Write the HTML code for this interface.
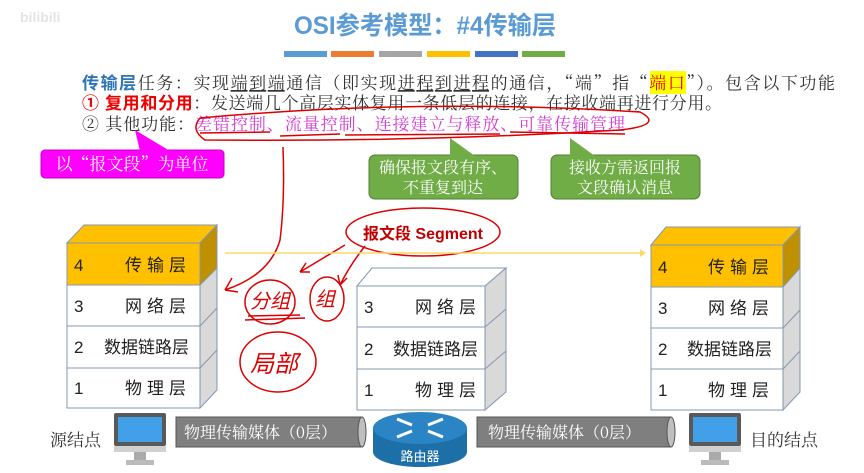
<!DOCTYPE html>
<html><head><meta charset="utf-8"><style>
html,body{margin:0;padding:0;background:#fff;}
svg{display:block;}
text{font-family:"Liberation Sans","Noto Sans CJK SC",sans-serif;}
.s{font-family:"Noto Serif CJK SC","Liberation Serif",serif;}
</style></head><body>
<svg width="864" height="473" viewBox="0 0 864 473" xmlns="http://www.w3.org/2000/svg">
<rect width="864" height="473" fill="#fff"/>
<text x="20" y="22" font-size="14" fill="#e4e4e4" font-weight="bold">bilibili</text>
<text x="425" y="34" text-anchor="middle" font-size="25" font-weight="bold" fill="#5b9bd5" textLength="262" lengthAdjust="spacingAndGlyphs">OSI参考模型：#4传输层</text>
<rect x="284" y="51" width="43" height="6" fill="#5b9bd5"/>
<rect x="331" y="51" width="43" height="6" fill="#ed7d31"/>
<rect x="379" y="51" width="43" height="6" fill="#a5a5a5"/>
<rect x="427" y="51" width="43" height="6" fill="#ffc000"/>
<rect x="475" y="51" width="43" height="6" fill="#4472c4"/>
<rect x="522" y="51" width="43" height="6" fill="#70ad47"/>

<rect x="650" y="71" width="36" height="23" fill="#ffff00"/>
<text x="82" y="89" font-size="17" fill="#333" textLength="753" lengthAdjust="spacing"><tspan font-weight="bold" fill="#2e75b6">传输层</tspan><tspan class="s">任务：实现</tspan><tspan class="s" text-decoration="underline">端到端</tspan><tspan class="s">通信（即实现</tspan><tspan class="s" text-decoration="underline">进程到进程</tspan><tspan class="s">的通信，“端”指“</tspan><tspan class="s" fill="#e00">端口</tspan><tspan class="s">”）。包含以下功能</tspan></text>
<text x="82" y="109" font-size="17" fill="#333" textLength="640" lengthAdjust="spacing"><tspan font-weight="bold" fill="#e00">① 复用和分用</tspan><tspan class="s">：发送端几个高层实体复用一条低层的连接，在接收端再进行分用。</tspan></text>
<text x="82" y="130" font-size="17" fill="#333" class="s" textLength="543" lengthAdjust="spacing">② 其他功能：<tspan fill="#d63ad6">差错控制、流量控制、连接建立与释放、可靠传输管理</tspan></text>

<g fill="none" stroke="#d00" stroke-width="1.5">
<path d="M200 118 Q420 98 640 112 Q665 125 620 130 Q420 142 205 140 Q190 130 200 118"/>
<path d="M200 133 L270 132 M280 136 L340 134 M345 135 L500 134 M510 132 L625 134"/>
<path d="M283 147 Q285 200 280 240 Q270 275 225 290"/>
<path d="M225 290 L232 278 M225 290 L238 292"/>
<path d="M345 245 Q320 260 300 272 M300 272 L306 263 M300 272 L310 272"/>
<path d="M365 246 Q350 265 340 285 M340 285 L338 275 M340 285 L347 278"/>
<ellipse cx="423" cy="232" rx="77" ry="24"/>
<ellipse cx="167" cy="306" rx="40" ry="20"/>
<ellipse cx="270" cy="302" rx="25" ry="22"/>
<ellipse cx="327" cy="299" rx="17" ry="22"/>
<path d="M245 320 L305 318 M248 316 L300 315"/>
<ellipse cx="278" cy="362" rx="38" ry="30"/>
</g>
<text x="250" y="308" font-size="20" fill="#d00" font-style="italic">分组</text>
<text x="315" y="306" font-size="20" fill="#d00" font-style="italic">组</text>
<text x="250" y="372" font-size="24" fill="#d00" font-style="italic">局部</text>
<text x="423" y="239" text-anchor="middle" font-size="16" font-weight="bold" fill="#c00000">报文段 Segment</text>

<path d="M45 150 H220 a4 4 0 0 1 4 4 V174 a4 4 0 0 1 -4 4 H45 a4 4 0 0 1 -4 -4 V154 a4 4 0 0 1 4 -4 Z" fill="#ff00ff" stroke="#c000c0"/>
<path d="M140 151 L135 130 L170 151 Z" fill="#ff00ff"/>
<text x="132" y="170" text-anchor="middle" font-size="17" fill="#fff" class="s">以“报文段”为单位</text>
<rect x="369" y="155" width="149" height="44" rx="6" fill="#70ad47" stroke="#507e32"/>
<path d="M450 156 L450 138 L475 156 Z" fill="#70ad47"/>
<text x="443" y="173" text-anchor="middle" font-size="16" fill="#fff" class="s">确保报文段有序、</text>
<text x="443" y="193" text-anchor="middle" font-size="16" fill="#fff" class="s">不重复到达</text>
<rect x="551" y="155" width="149" height="44" rx="6" fill="#70ad47" stroke="#507e32"/>
<path d="M570 156 L570 138 L595 156 Z" fill="#70ad47"/>
<text x="625" y="173" text-anchor="middle" font-size="16" fill="#fff" class="s">接收方需返回报</text>
<text x="625" y="193" text-anchor="middle" font-size="16" fill="#fff" class="s">文段确认消息</text>

<line x1="225" y1="253" x2="640" y2="253" stroke="#ffd966" stroke-width="1.5"/>
<path d="M640 249 L646 253 L640 257 Z" fill="#ffd966"/>

<g stroke="#8497b0" stroke-width="1">
<path d="M67 243 L84 225 L217 225 L200 243 Z" fill="#ffc000"/>
<path d="M200 243 L217 225 L217 390 L200 408 Z" fill="#d9d9d9"/>
<path d="M200 243 L217 225 L217 268 L200 285 Z" fill="#bf9000"/>
<rect x="67" y="243" width="133" height="42" fill="#ffc000"/>
<rect x="67" y="285" width="133" height="41" fill="#fff"/>
<rect x="67" y="326" width="133" height="42" fill="#fff"/>
<rect x="67" y="368" width="133" height="40" fill="#fff"/>
<path d="M200 326 L217 308 M200 368 L217 350" fill="none"/>
</g>
<g font-size="17" fill="#222" class="s">
<text x="74" y="271">4</text><text x="125" y="271" letter-spacing="5">传输层</text>
<text x="74" y="312">3</text><text x="125" y="312" letter-spacing="5">网络层</text>
<text x="74" y="353">2</text><text x="104" y="353">数据链路层</text>
<text x="74" y="394">1</text><text x="125" y="394" letter-spacing="5">物理层</text>
</g>
<g stroke="#8497b0" stroke-width="1">
<path d="M357 286 L372 268 L506 268 L485 286 Z" fill="#fff"/>
<path d="M485 286 L506 268 L506 392 L485 410 Z" fill="#d9d9d9"/>
<rect x="357" y="286" width="128" height="41" fill="#fff"/>
<rect x="357" y="327" width="128" height="42" fill="#fff"/>
<rect x="357" y="369" width="128" height="41" fill="#fff"/>
<path d="M485 327 L506 309 M485 369 L506 351" fill="none"/>
</g>
<g font-size="17" fill="#222" class="s">
<text x="364" y="313">3</text><text x="415" y="313" letter-spacing="5">网络层</text>
<text x="364" y="355">2</text><text x="393" y="355">数据链路层</text>
<text x="364" y="396">1</text><text x="415" y="396" letter-spacing="5">物理层</text>
</g>
<g stroke="#8497b0" stroke-width="1">
<path d="M651 245 L666 227 L800 227 L783 245 Z" fill="#ffc000"/>
<path d="M783 245 L800 227 L800 392 L783 410 Z" fill="#d9d9d9"/>
<path d="M783 245 L800 227 L800 268 L783 287 Z" fill="#bf9000"/>
<rect x="651" y="245" width="132" height="42" fill="#ffc000"/>
<rect x="651" y="287" width="132" height="41" fill="#fff"/>
<rect x="651" y="328" width="132" height="41" fill="#fff"/>
<rect x="651" y="369" width="132" height="41" fill="#fff"/>
<path d="M783 328 L800 310 M783 369 L800 351" fill="none"/>
</g>
<g font-size="17" fill="#222" class="s">
<text x="658" y="273">4</text><text x="708" y="273" letter-spacing="5">传输层</text>
<text x="658" y="314">3</text><text x="708" y="314" letter-spacing="5">网络层</text>
<text x="658" y="355">2</text><text x="687" y="355">数据链路层</text>
<text x="658" y="396">1</text><text x="708" y="396" letter-spacing="5">物理层</text>
</g>

<text x="50" y="446" font-size="17" fill="#333" class="s">源结点</text>
<text x="750" y="446" font-size="17" fill="#333" class="s">目的结点</text>
<g>
<rect x="114" y="413" width="52" height="33" fill="#595959" rx="2"/>
<rect x="118" y="417" width="44" height="25" fill="#41a0e8"/>
<rect x="114" y="446" width="52" height="6" fill="#d0d0d0"/>
<rect x="134" y="452" width="12" height="8" fill="#aaa"/>
<rect x="126" y="460" width="28" height="5" fill="#bbb"/>
<rect x="689" y="413" width="52" height="33" fill="#595959" rx="2"/>
<rect x="693" y="417" width="44" height="25" fill="#41a0e8"/>
<rect x="689" y="446" width="52" height="6" fill="#d0d0d0"/>
<rect x="709" y="452" width="12" height="8" fill="#aaa"/>
<rect x="701" y="460" width="28" height="5" fill="#bbb"/>
</g>
<rect x="176" y="417" width="186" height="30" fill="#7f7f7f" stroke="#555"/>
<ellipse cx="362" cy="432" rx="4" ry="15" fill="#bfbfbf" stroke="#555"/>
<text x="184" y="438" font-size="16" fill="#fff" class="s">物理传输媒体（0层）</text>
<rect x="477" y="417" width="194" height="30" fill="#7f7f7f" stroke="#555"/>
<ellipse cx="671" cy="432" rx="4" ry="15" fill="#bfbfbf" stroke="#555"/>
<text x="488" y="438" font-size="16" fill="#fff" class="s">物理传输媒体（0层）</text>
<path d="M373 428 V452 A47 15 0 0 0 467 452 V428 Z" fill="#1d6fa8"/>
<ellipse cx="420" cy="428" rx="47" ry="16" fill="#2b85c4"/>
<g stroke="#fff" stroke-width="3" fill="none">
<path d="M397 419 L412 425 M443 419 L428 425 M397 437 L412 431 M443 437 L428 431"/>
</g>
<text x="420" y="461" text-anchor="middle" font-size="13" fill="#fff">路由器</text>
</svg>
</body></html>
